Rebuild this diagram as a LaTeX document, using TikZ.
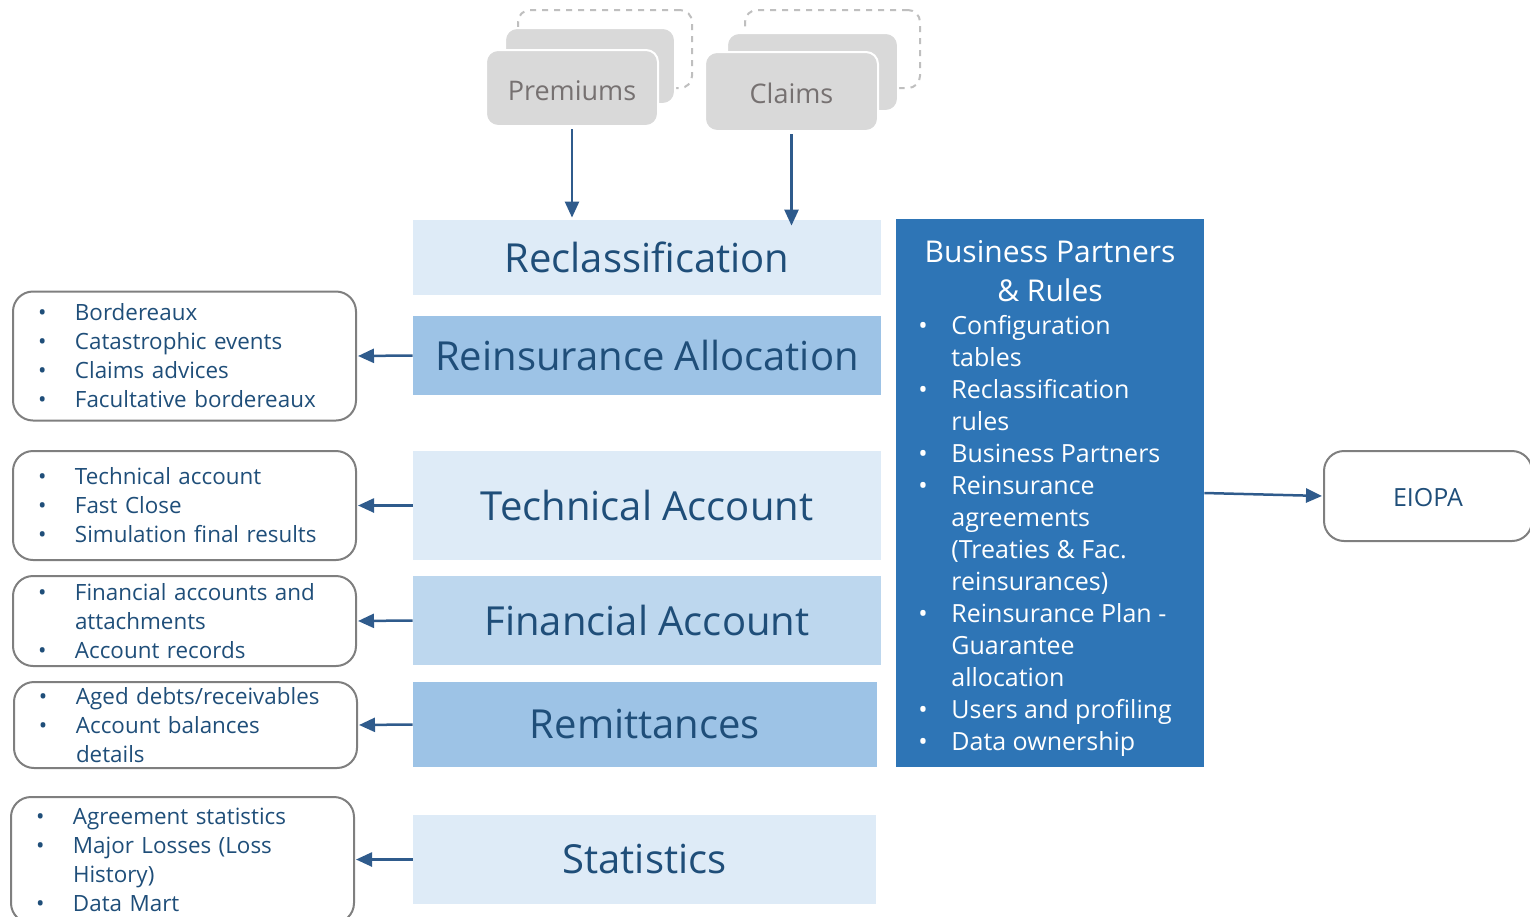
\documentclass[tikz,border=0pt]{standalone}
\usepackage{fontspec}
\setmainfont{Open Sans}
\usetikzlibrary{arrows.meta}
\definecolor{arrowblue}{HTML}{2F5B8C}
\definecolor{darkblue}{HTML}{1F4E79}
\definecolor{lightfill}{HTML}{DEEBF7}
\definecolor{midfill}{HTML}{9DC3E6}
\definecolor{finfill}{HTML}{BDD7EE}
\definecolor{panelblue}{HTML}{2E75B6}
\definecolor{boxgray}{HTML}{7F7F7F}
\definecolor{cardgray}{HTML}{D9D9D9}
\definecolor{cardtext}{HTML}{767171}
\definecolor{dashgray}{HTML}{BFBFBF}
\newcommand{\bl}{\makebox[18.5pt][l]{\textbullet}}
\newcommand{\ind}{\hspace*{18.5pt}}
\newcommand{\pbl}{\makebox[16.5pt][l]{\textbullet}}
\newcommand{\pind}{\hspace*{16.5pt}}
\newcommand{\lowertext}[2]{\raisebox{-#1}[\height][\depth]{#2}}
\begin{document}
\begin{tikzpicture}[x=0.5pt,y=-0.5pt,
  mainbox/.style={draw=none, inner sep=0pt, text=darkblue, font=\fontsize{20}{24}\selectfont},
  lbox/.style={draw=boxgray, line width=1pt, rounded corners=10pt, inner xsep=12.5pt, inner ysep=0pt,
    align=left, text=darkblue, font=\fontsize{11.2}{14.5}\selectfont, text width=146.5pt, minimum width=171.5pt},
  card/.style={fill=cardgray, draw=white, line width=1pt, rounded corners=6pt, inner sep=0pt,
    text=cardtext, font=\fontsize{13.5}{16}\selectfont},
  dashcard/.style={draw=dashgray, dashed, line width=1pt, fill=white, rounded corners=6pt, inner sep=0pt},
  link/.style={draw=arrowblue, line width=1.25pt, -{Triangle[length=8pt,width=7pt]}}
]
\useasboundingbox (0,0) rectangle (1530,916);

% Premiums stack
\node[dashcard, minimum width=87pt, minimum height=39pt] (premd) at (605,49) {};
\node[card, minimum width=85pt, minimum height=38pt] (premm) at (590,66) {};
\node[card, minimum width=86pt, minimum height=38pt] (prem) at (572,88) {\lowertext{1.5pt}{Premiums}};
% Claims stack
\node[dashcard, minimum width=87.5pt, minimum height=39pt] (claimd) at (832.5,49) {};
\node[card, minimum width=85.5pt, minimum height=39pt] (claimm) at (812.5,72) {};
\node[card, minimum width=86.5pt, minimum height=39.5pt] (claim) at (791.5,91.5) {\lowertext{1pt}{Claims}};

% Main column
\node[mainbox, fill=lightfill, minimum width=234pt, minimum height=37.5pt] (recl) at (647,257.5) {Reclassification};
\node[mainbox, fill=midfill, minimum width=234pt, minimum height=39.5pt] (alloc) at (647,355.5) {Reinsurance Allocation};
\node[mainbox, fill=lightfill, minimum width=234pt, minimum height=54.5pt] (tech) at (647,505.5) {Technical Account};
\node[mainbox, fill=finfill, minimum width=234pt, minimum height=44.5pt] (fin) at (647,620.5) {Financial Account};
\node[mainbox, fill=midfill, minimum width=232pt, minimum height=42.5pt] (remit) at (645,724.5) {Remittances};
\node[mainbox, fill=lightfill, minimum width=231.5pt, minimum height=44.5pt] (stats) at (644.5,859.5) {Statistics};

% Right panel
\node[fill=panelblue, inner sep=0pt, minimum width=154pt, minimum height=274pt] (panel) at (1050,493) {};
\node[text=white, align=center, inner sep=0pt, font=\fontsize{15}{19.5}\selectfont] (ptitle) at (1050,271) {Business Partners\\\& Rules};
\node[text=white, align=left, inner sep=0pt, anchor=west, font=\fontsize{12.5}{16}\selectfont] (plist) at (918,536) {%
\pbl Configuration\\
\pind tables\\
\pbl Reclassification\\
\pind rules\\
\pbl Business Partners\\
\pbl Reinsurance\\
\pind agreements\\
\pind (Treaties \& Fac.\\
\pind reinsurances)\\
\pbl Reinsurance Plan -\\
\pind Guarantee\\
\pind allocation\\
\pbl Users and profiling\\
\pbl Data ownership};

% EIOPA
\node[draw=boxgray, line width=1pt, rounded corners=10pt, minimum width=104pt, minimum height=45pt,
  inner sep=0pt, text=darkblue, font=\fontsize{12.5}{15}\selectfont] (eiopa) at (1428,496) {\lowertext{1pt}{EIOPA}};

% Left boxes
\node[lbox, minimum height=64.5pt] (l1) at (184.5,356) {%
\bl Bordereaux\\
\bl Catastrophic events\\
\bl Claims advices\\
\bl Facultative bordereaux};
\node[lbox, minimum height=54.5pt] (l2) at (184.5,505.5) {%
\bl Technical account\\
\bl Fast Close\\
\bl Simulation final results};
\node[lbox, minimum height=45pt] (l3) at (184.5,621) {%
\bl Financial accounts and\\
\ind attachments\\
\bl Account records};
\node[lbox, minimum height=43pt] (l4) at (185.5,725) {%
\bl Aged debts/receivables\\
\bl Account balances\\
\ind details};
\node[lbox, minimum height=63pt] (l5) at (182.5,860) {%
\bl Agreement statistics\\
\bl Major Losses (Loss\\
\ind History)\\
\bl Data Mart};

% Connectors
\draw[link, shorten <=1pt, shorten >=1pt] (prem.south) -- (prem.south |- recl.north);
\draw[link, shorten <=1pt, shorten >=-3pt] (claim.south) -- (claim.south |- recl.north);
\draw[link, shorten >=0.5pt] (alloc.west) -- (l1.east);
\draw[link, shorten >=0.5pt] (tech.west) -- (l2.east);
\draw[link, shorten >=0.5pt] (fin.west) -- (l3.east);
\draw[link, shorten >=0.5pt] (remit.west) -- (l4.east);
\draw[link, shorten >=0.5pt] (stats.west) -- (stats.west -| l5.east);
\draw[link, shorten >=0.5pt] (panel.east) -- (eiopa.west);
\end{tikzpicture}
\end{document}
